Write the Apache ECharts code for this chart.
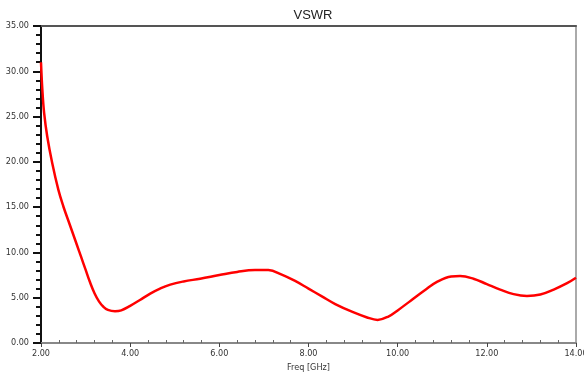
<!DOCTYPE html>
<html>
<head>
<meta charset="utf-8">
<script src="https://cdn.jsdelivr.net/npm/echarts@6/dist/echarts.min.js"></script>
<style>
  html, body { margin: 0; padding: 0; background: #fff; }
  #chart { width: 584px; height: 374px; }
</style>
</head>
<body>
<div id="chart"></div>
<script>
// Frequency sweep (GHz) and measured VSWR
const freqGHz = [
  2.00, 2.03, 2.07, 2.14, 2.25, 2.39, 2.50, 2.65, 2.80, 2.90,
  3.00, 3.10, 3.20, 3.30, 3.40, 3.50, 3.66, 3.80, 4.00, 4.22,
  4.45, 4.67, 4.90, 5.20, 5.57, 6.00, 6.40, 6.80, 7.10, 7.40,
  7.70, 8.00, 8.30, 8.60, 9.00, 9.30, 9.55, 9.80, 10.00, 10.30,
  10.60, 10.90, 11.20, 11.40, 11.70, 12.00, 12.30, 12.60, 12.90, 13.20,
  13.50, 13.80, 14.00
];
const vswr = [
  31.0, 28.0, 25.4, 22.8, 19.9, 16.9, 15.1, 13.0, 10.9, 9.5,
  8.1, 6.7, 5.5, 4.6, 4.0, 3.65, 3.5, 3.6, 4.1, 4.75,
  5.45, 6.0, 6.45, 6.8, 7.1, 7.5, 7.85, 8.05, 8.05, 7.55,
  6.85, 6.0, 5.15, 4.3, 3.4, 2.85, 2.55, 2.95, 3.6, 4.7,
  5.8, 6.8, 7.35, 7.4, 7.1, 6.5, 5.9, 5.4, 5.2, 5.35,
  5.9, 6.6, 7.2
];

const chartTitle = 'VSWR';
const xName = 'Freq [GHz]';
const yName = 'VSWR';

const labelFont = '"DejaVu Sans Condensed", "Liberation Sans Narrow", "Liberation Sans", Arial, sans-serif';
const titleFont = '"Liberation Sans", Arial, sans-serif';
const points = freqGHz.map((f, i) => [f, vswr[i]]);

const chart = echarts.init(document.getElementById('chart'), null, { renderer: 'canvas' });
chart.setOption({
  animation: false,
  backgroundColor: '#ffffff',
  title: {
    text: chartTitle,
    left: 308, top: 4, textAlign: 'center',
    textStyle: { fontFamily: titleFont, fontSize: 13, fontWeight: 'normal', color: '#222' }
  },
  grid: { left: 41, right: 8, top: 26, bottom: 31, containLabel: false, outerBoundsMode: 'none' },
  xAxis: [{
    type: 'value', min: 2, max: 14, interval: 2,
    name: xName, nameLocation: 'middle', nameGap: 20,
    nameTextStyle: { fontFamily: labelFont, fontSize: 9, color: '#333' },
    axisLine: { onZero: false, lineStyle: { color: '#888', width: 2 } },
    axisTick: { show: true, length: 4, lineStyle: { color: '#444', width: 1 } },
    minorTick: { show: true, splitNumber: 5, length: -3, lineStyle: { color: '#666' } },
    axisLabel: {
      margin: 6, fontFamily: labelFont, fontSize: 9, color: '#333',
      formatter: v => v.toFixed(2)
    },
    splitLine: { show: false }
  }, {
    type: 'value', position: 'top', min: 2, max: 14,
    axisLine: { show: true, onZero: false, lineStyle: { color: '#555', width: 2 } },
    axisTick: { show: false }, axisLabel: { show: false }, splitLine: { show: false }
  }],
  yAxis: [{
    type: 'value', min: 0, max: 35, interval: 5,
    name: yName, nameLocation: 'middle', nameGap: 29,
    nameTextStyle: { fontFamily: labelFont, fontSize: 9, color: '#333' },
    axisLine: { onZero: false, lineStyle: { color: '#111', width: 2 } },
    axisTick: { show: true, length: 8, lineStyle: { color: '#111', width: 2 } },
    minorTick: { show: true, splitNumber: 5, length: 5, lineStyle: { color: '#111', width: 2 } },
    axisLabel: {
      margin: 12, fontFamily: labelFont, fontSize: 9, color: '#333',
      formatter: v => v.toFixed(2)
    },
    splitLine: { show: false }
  }, {
    type: 'value', position: 'right', min: 0, max: 35,
    axisLine: { show: true, onZero: false, lineStyle: { color: '#aaa', width: 2 } },
    axisTick: { show: false }, axisLabel: { show: false }, splitLine: { show: false }
  }],
  series: [{
    type: 'line',
    data: points,
    smooth: 0.4,
    showSymbol: false,
    lineStyle: { color: '#ff0000', width: 2.5 },
    clip: true
  }]
});
</script>
</body>
</html>
